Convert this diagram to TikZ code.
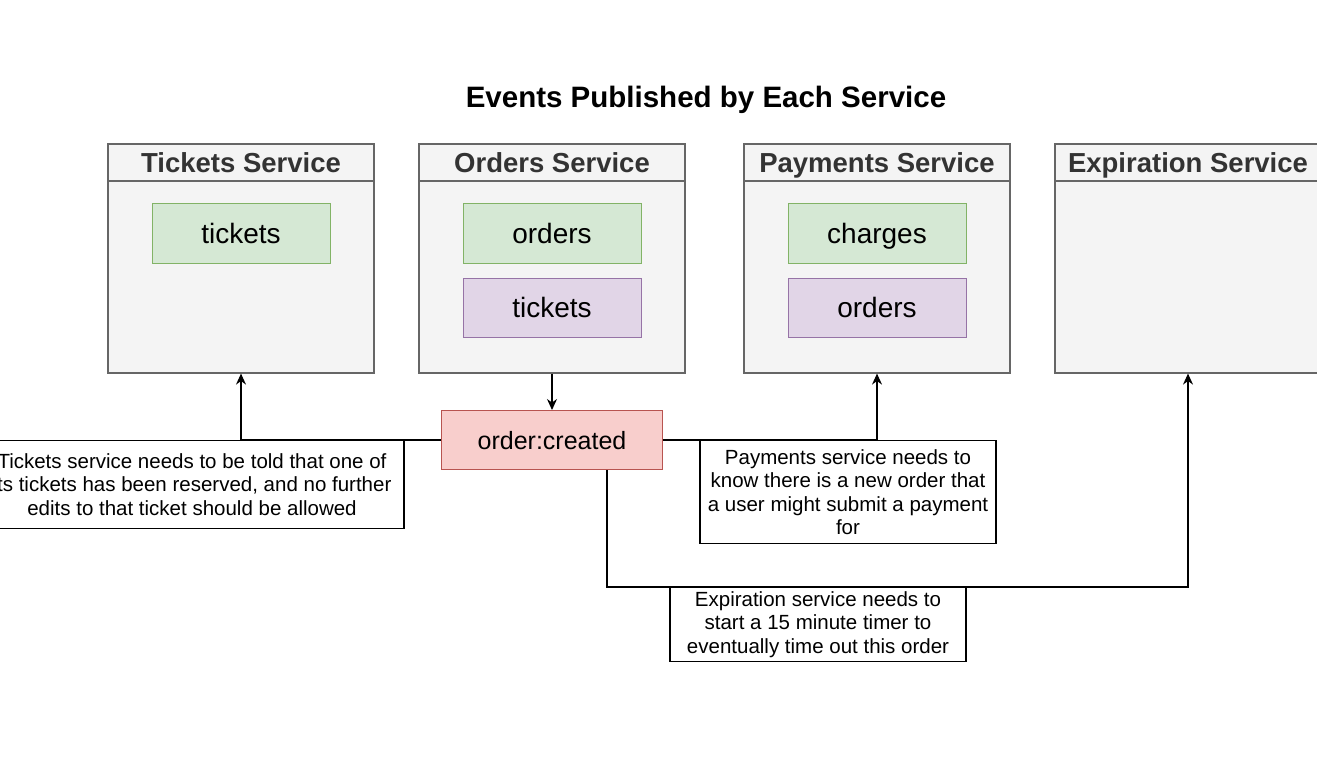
\documentclass[tikz,border=0pt]{standalone}
\usepackage{fontspec}
\setmainfont{Liberation Sans}
\usetikzlibrary{arrows.meta}

\definecolor{svcfill}{HTML}{F4F4F4}
\definecolor{svcline}{HTML}{666666}
\definecolor{headtext}{HTML}{333333}
\definecolor{grnfill}{HTML}{D5E8D4}
\definecolor{grnline}{HTML}{82B366}
\definecolor{prpfill}{HTML}{E1D5E7}
\definecolor{prpline}{HTML}{9673A6}
\definecolor{redfill}{HTML}{F8CECC}
\definecolor{redline}{HTML}{B85450}

\tikzset{
  svc/.style={draw=svcline, fill=svcfill, line width=1.2pt,
    minimum width=266pt, minimum height=229pt, inner sep=0pt},
  svchead/.style={draw=svcline, line width=1.2pt, anchor=north, inner sep=0pt,
    minimum width=266pt, minimum height=37pt, text=headtext,
    text height=20pt, text depth=0pt,
    font=\fontsize{27.5}{30}\selectfont\bfseries},
  topic/.style={draw=#1line, fill=#1fill, line width=1pt, inner sep=0pt,
    minimum width=178pt, minimum height=59pt, text height=20pt, text depth=0pt,
    font=\fontsize{28}{30}\selectfont},
  note/.style={draw, line width=1.2pt, align=center, inner sep=0pt,
    font=\fontsize{20.5}{23.5}\selectfont},
  arr/.style={line width=1.2pt, -{Stealth[length=11pt,width=10pt]}},
}

\begin{document}
\begin{tikzpicture}[x=1pt,y=-1pt]
    \useasboundingbox (0,0) rectangle (1317,778);
    \clip (0,0) rectangle (1317,778);

    % title
    \node[font=\fontsize{29.5}{32}\selectfont\bfseries] (title) at (706,100)
      {Events Published by Each Service};

    % services
    \foreach \name/\x/\label in {tix/241/Tickets Service, ord/552/Orders Service,
        pay/877/Payments Service, exp/1188/Expiration Service} {
        \node[svc] (\name) at (\x,258.5) {};
        \node[svchead] (\name head) at (\name.north) {\label};
      }

    % topics listened to
    \node[topic=grn] (tixtickets) at (241,233.5) {tickets};
    \node[topic=grn] (ordorders) at (552,233.5) {orders};
    \node[topic=prp] (ordtickets) at (552,307.5) {tickets};
    \node[topic=grn] (paycharges) at (877,233.5) {charges};
    \node[topic=prp] (payorders) at (877,307.5) {orders};

    % the event
    \node[topic=red, minimum width=221pt, text height=18pt,
      font=\fontsize{25}{28}\selectfont] (evt) at (552,440) {order:created};

    % notes
    \node[note, minimum width=424pt, minimum height=88pt] (tixnote) at (192,484.5)
      {Tickets service needs to be told that one of\\
       its tickets has been reserved, and no further\\
       edits to that ticket should be allowed};
    \node[note, minimum width=296pt, minimum height=103pt] (paynote) at (848,492)
      {Payments service needs to\\
       know there is a new order that\\
       a user might submit a payment\\
       for};
    \node[note, minimum width=296pt, minimum height=74pt] (expnote) at (818,624.5)
      {Expiration service needs to\\
       start a 15 minute timer to\\
       eventually time out this order};

    % connectors
    \draw[arr] (ord.south) -- (evt.north);
    \draw[arr] (evt.west) -| (tix.south);
    \draw[arr] (evt.east) -| (pay.south);
    \draw[arr] ([xshift=55pt]evt.south) |- (expnote.north) -| (exp.south);
  \end{tikzpicture}
\end{document}
